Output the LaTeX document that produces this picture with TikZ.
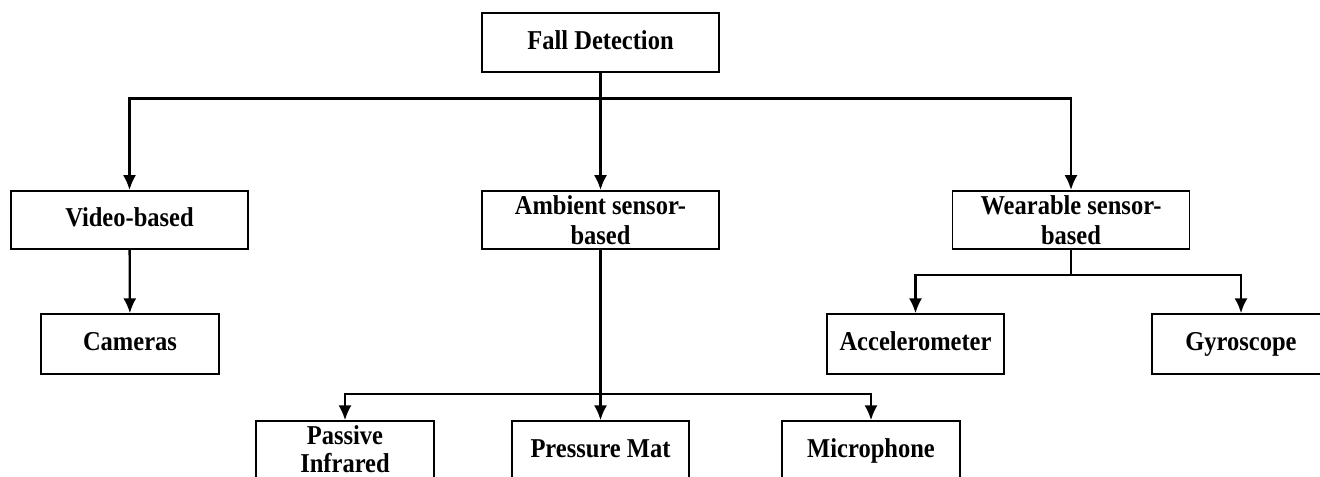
\documentclass[tikz,border=0pt]{standalone}
\usepackage{fontspec}
\setmainfont{Liberation Serif}[FakeStretch=0.9]
\usetikzlibrary{arrows.meta}

\tikzset{
  catbox/.style={draw, line width=0.9pt, minimum width=4.74cm, minimum height=1.17cm,
    inner sep=0pt, align=center, text height=11pt, text depth=3.2pt,
    font=\fontsize{15.5}{17}\selectfont\bfseries},
  twoline/.style={text height=, text depth=},
  leafbox/.style={catbox, minimum width=3.55cm, minimum height=1.2cm},
  link/.style={line width=1.3pt},
}

\begin{document}
\begin{tikzpicture}[x=0.02cm, y=-0.02cm, >={Latex[length=8.5pt,width=7.5pt]}]
  \useasboundingbox (0,0) rectangle (1320,477);
  \clip (0,0) rectangle (1320,477);

  \node[catbox] (fall) at (600.5,42.5) {Fall Detection};
  \node[catbox] (video) at (129.5,220) {Video-based};
  \node[catbox, twoline] (ambient) at (600.5,220) {Ambient sensor-\\based};
  \node[catbox, twoline] (wearable) at (1071,220) {Wearable sensor-\\based};

  \node[leafbox] (cameras) at (130,344) {Cameras};
  \node[leafbox] (accel) at (915.5,344) {Accelerometer};
  \node[leafbox] (gyro) at (1241,344) {Gyroscope};
  \node[leafbox, twoline, text depth=2pt, font=\fontsize{15.5}{16}\selectfont\bfseries]
    (passive) at (345,451) {Passive\\Infrared};
  \node[leafbox] (pressure) at (600.5,451) {Pressure Mat};
  \node[leafbox] (micro) at (871,451) {Microphone};

  % first level
  \coordinate (split) at (600.5,98.5);
  \draw[link,->] (fall) -- (ambient);
  \draw[link,->] (split) -| (video.north);
  \draw[link,->] (split) -| (wearable.north);

  \draw[link,->] (video) -- (cameras);

  % ambient sensors
  \coordinate (asplit) at (600.5,394);
  \draw[link,->] (ambient) -- (pressure);
  \draw[link,->] (asplit) -| (passive.north);
  \draw[link,->] (asplit) -| (micro.north);

  % wearable sensors
  \coordinate (wsplit) at (1071,275);
  \draw[line width=0.9pt] (wearable.south) -- (wsplit);
  \draw[link,->] (wsplit) -| (accel.north);
  \draw[link,->] (wsplit) -| (gyro.north);
\end{tikzpicture}
\end{document}
